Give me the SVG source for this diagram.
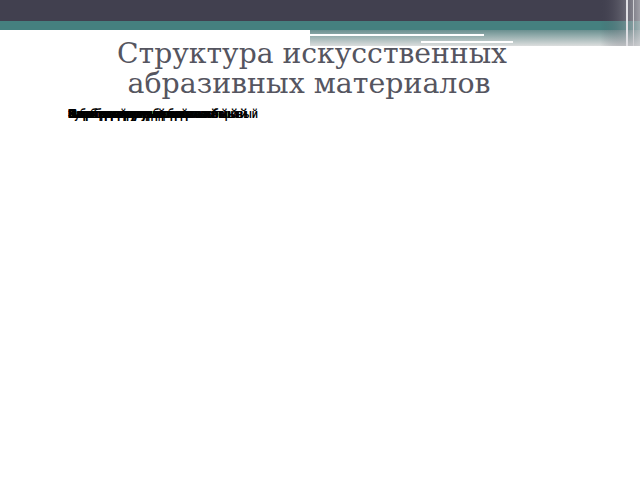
<svg xmlns="http://www.w3.org/2000/svg" width="640" height="480" viewBox="0 0 640 480">
<defs>
<linearGradient id="g1" x1="0" y1="0" x2="0" y2="1">
<stop offset="0" stop-color="#6a9090"/>
<stop offset="1" stop-color="#dcdede"/>
</linearGradient>
<linearGradient id="g2" x1="0" y1="0" x2="1" y2="0">
<stop offset="0" stop-color="#41404f" stop-opacity="0"/>
<stop offset="1" stop-color="#c8c8cc"/>
</linearGradient>
</defs>
<style>
.t{font-family:"DejaVu Serif","Liberation Serif",serif;font-size:27px;fill:#555560;text-anchor:middle}
.l{font-family:"Liberation Sans",Arial,sans-serif;font-size:13px;font-weight:bold;fill:#000}
</style>
<rect width="640" height="480" fill="#fff"/>
<rect x="0" y="0" width="640" height="21" fill="#41404f"/>
<rect x="0" y="21" width="640" height="9" fill="#45807f"/>
<rect x="310" y="30" width="330" height="16" fill="url(#g1)"/>
<rect x="310" y="34" width="174" height="2" fill="#fff"/>
<rect x="421" y="41" width="92" height="2" fill="#fff"/>
<rect x="0" y="30" width="310" height="16" fill="#fff"/>
<rect x="600" y="0" width="40" height="46" fill="url(#g2)" opacity="0.7"/>
<rect x="626" y="0" width="2" height="46" fill="#e0e0e4"/>
<rect x="633" y="0" width="1" height="46" fill="#d0d0d4"/>
<g id="title">
<text class="t" x="312" y="63" textLength="390" lengthAdjust="spacingAndGlyphs">Структура искусственных</text>
<text class="t" x="309" y="93" textLength="363" lengthAdjust="spacingAndGlyphs">абразивных материалов</text>
</g>
<g id="labels">
<text class="l" x="68" y="118" textLength="160" lengthAdjust="spacingAndGlyphs">Электрокорунд нормальный</text>
<text class="l" x="68" y="118" textLength="120" lengthAdjust="spacingAndGlyphs">Электрокорунд белый</text>
<text class="l" x="68" y="118" textLength="170" lengthAdjust="spacingAndGlyphs">Электрокорунд хромистый</text>
<text class="l" x="68" y="118" textLength="150" lengthAdjust="spacingAndGlyphs">Карбид кремния черный</text>
<text class="l" x="68" y="118" textLength="180" lengthAdjust="spacingAndGlyphs">Карбид кремния зеленый</text>
<text class="l" x="68" y="118" textLength="140" lengthAdjust="spacingAndGlyphs">Синтетический алмаз</text>
<text class="l" x="68" y="118" textLength="190" lengthAdjust="spacingAndGlyphs">Кубический нитрид бора эльборовый</text>
</g>
</svg>
